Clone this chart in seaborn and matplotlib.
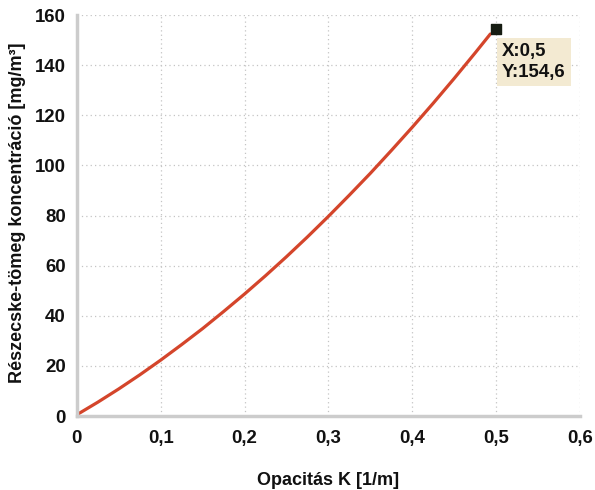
import matplotlib
matplotlib.use("Agg")
import matplotlib.pyplot as plt
import seaborn as sns
import pandas as pd

# Data
opacity = [0.0, 0.025, 0.05, 0.075, 0.1, 0.125, 0.15, 0.175, 0.2, 0.225, 0.25,
           0.275, 0.3, 0.325, 0.35, 0.375, 0.4, 0.425, 0.45, 0.475, 0.493]
concentration = [0.5, 5.5, 10.8, 16.4, 22.3, 28.5, 34.9, 41.7, 48.7, 56.0, 63.6,
                 71.5, 79.7, 88.2, 96.9, 106.0, 115.3, 124.9, 134.8, 145.0, 152.5]
marker_x = [0.5]
marker_y = [154.6]
x_ticks = [0, 0.1, 0.2, 0.3, 0.4, 0.5, 0.6]
x_ticklabels = ["0", "0,1", "0,2", "0,3", "0,4", "0,5", "0,6"]
y_ticks = [0, 20, 40, 60, 80, 100, 120, 140, 160]

sns.set_style("white")
plt.rcParams['font.family'] = ['Liberation Sans', 'DejaVu Sans']
plt.rcParams['font.weight'] = 'bold'
plt.rcParams['text.color'] = '#111111'
plt.rcParams['xtick.labelcolor'] = '#111111'
plt.rcParams['ytick.labelcolor'] = '#111111'
plt.rcParams['axes.labelcolor'] = '#111111'

fig = plt.figure(figsize=(5.95, 4.9), dpi=100)
ax = fig.add_axes([0.129, 0.151, 0.846, 0.818])

df = pd.DataFrame({"x": opacity, "y": concentration})
sns.lineplot(data=df, x="x", y="y", ax=ax, color="#d4452b", linewidth=2.3)
ax.scatter(marker_x, marker_y, marker="s", s=42, color="#161c12", zorder=5)

ax.set_xlim(0, 0.6)
ax.set_ylim(0, 160)
ax.set_xticks(x_ticks)
ax.set_xticklabels(x_ticklabels)
ax.set_yticks(y_ticks)
ax.tick_params(axis="both", labelsize=13.4, length=3, color="#bbbbbb", pad=5)
ax.tick_params(axis="x", pad=7)
for lab in ax.get_xticklabels() + ax.get_yticklabels():
    lab.set_fontweight("bold")

ax.grid(True, linestyle=(0, (1, 2.5)), color="#c4c4c4", linewidth=0.9)
for s in ["top", "right"]:
    ax.spines[s].set_visible(False)
for s in ["left", "bottom"]:
    ax.spines[s].set_color("#cccccc")
    ax.spines[s].set_linewidth(2.5)

ax.set_xlabel("Opacitás K [1/m]", fontsize=13, fontweight="bold")
ax.xaxis.set_label_coords(0.5, -0.162)
ax.xaxis.label.set_va("center")
ax.set_ylabel("Részecske-tömeg koncentráció [mg/m³]", fontsize=13, fontweight="bold")
ax.yaxis.set_label_coords(-0.117, 0.506)
ax.yaxis.label.set_va("center")

ax.text(0.507, 149.0, "X:0,5\nY:154,6", fontsize=13.4, fontweight="bold", va="top", ha="left",
        linespacing=1.3,
        bbox=dict(boxstyle="square,pad=0.28", facecolor="#f3ead2", edgecolor="none"), zorder=6)

fig.savefig("out.png", dpi=100)
